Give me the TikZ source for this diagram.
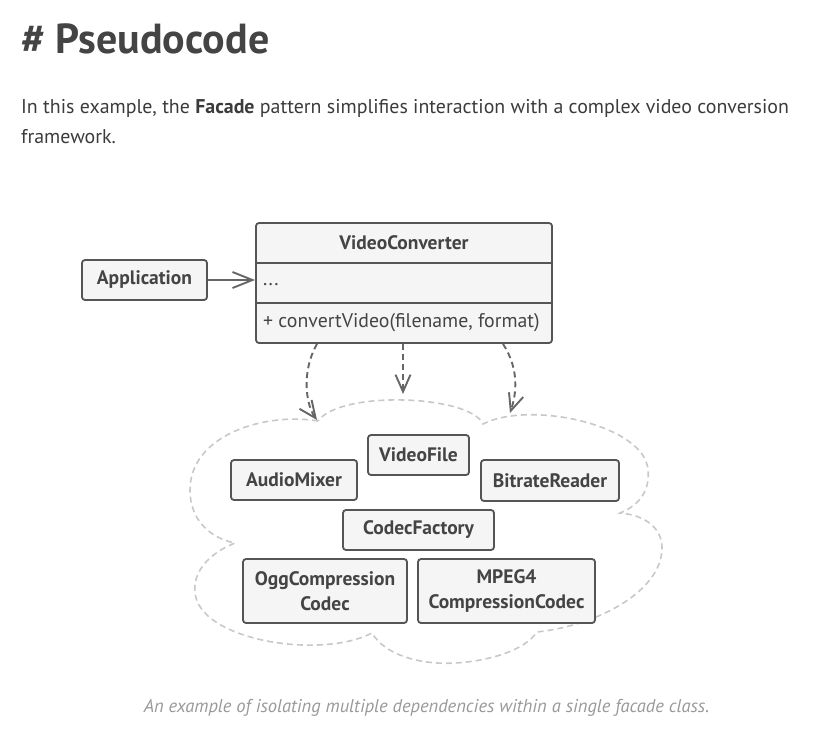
\documentclass[tikz,border=0pt]{standalone}
\usepackage{fontspec}
\setmainfont{PT Sans}
\usetikzlibrary{arrows.meta}
\definecolor{headc}{HTML}{444444}
\definecolor{txtc}{HTML}{3B3B3B}
\definecolor{boxline}{HTML}{555555}
\definecolor{boxfill}{HTML}{F5F5F5}
\definecolor{arrowc}{HTML}{666666}
\definecolor{cloudc}{HTML}{C8C8C8}
\definecolor{capc}{HTML}{999999}
\begin{document}
\begin{tikzpicture}[x=1pt,y=-1pt,
  cls/.style={draw=boxline, fill=boxfill, line width=1.8pt, rounded corners=3pt,
    inner sep=0pt, font=\fontsize{19.5}{25}\selectfont\bfseries, text=headc, align=center},
  member/.style={anchor=west, inner sep=0pt, font=\fontsize{19.8}{22}\selectfont, text=headc},
  assoc/.style={draw=arrowc, line width=1.9pt, -{Straight Barb[length=20pt,width=16pt,line width=1.9pt]}},
  dep/.style={draw=arrowc, line width=1.9pt, dash pattern=on 6pt off 4pt,
    -{Straight Barb[length=17pt,width=15pt,line width=1.9pt]}},
  cloudline/.style={draw=cloudc, line width=1.6pt, dash pattern=on 6pt off 4pt},
  divider/.style={draw=boxline, line width=1.8pt}
]
\useasboundingbox (0,0) rectangle (840,745);

% heading and text
\node[anchor=base west, inner sep=0pt, font=\fontsize{42}{48}\selectfont\bfseries, text=headc] (title) at (21,53) {\# Pseudocode};
\node[anchor=base west, inner sep=0pt, font=\fontsize{19.9}{30}\selectfont, text=txtc] (para1) at (21,113)
  {In this example, the \textbf{Facade} pattern simplifies interaction with a complex video conversion};
\node[anchor=base west, inner sep=0pt, font=\fontsize{19.9}{30}\selectfont, text=txtc] (para2) at (21,143) {framework.};
\node[anchor=base, inner sep=0pt, font=\fontsize{18.5}{22}\selectfont\itshape, text=capc] (caption) at (426.5,712)
  {An example of isolating multiple dependencies within a single facade class.};

% cloud
\draw[cloudline] (318,421)
  .. controls (265,412) and (190,435) .. (190,490)
  .. controls (190,520) and (210,538) .. (235,543)
  .. controls (205,555) and (193,575) .. (195,592)
  .. controls (198,640) and (320,660) .. (372,633)
  .. controls (385,655) and (420,665) .. (455,663)
  .. controls (490,661) and (525,650) .. (537,632)
  .. controls (600,625) and (662,590) .. (662,548)
  .. controls (662,528) and (645,515) .. (620,513)
  .. controls (640,505) and (650,490) .. (648,470)
  .. controls (645,425) and (530,400) .. (483,424)
  .. controls (470,395) and (340,390) .. (318,421);

% classes
\node[cls, minimum width=125pt, minimum height=40pt] (app) at (144.5,280) {Application};
\node[cls, minimum width=296pt, minimum height=120pt] (vc) at (404,283) {};
\coordinate (d1) at (0,263);
\coordinate (d2) at (0,303);
\draw[divider] (vc.west |- d1) -- (vc.east |- d1);
\draw[divider] (vc.west |- d2) -- (vc.east |- d2);
\node[inner sep=0pt, font=\fontsize{19.5}{22}\selectfont\bfseries, text=headc] (vctitle) at (404,243) {VideoConverter};
\node[member] (vcattr) at (263,285) {...};
\node[member] (vcop) at (263,323) {+ convertVideo(filename, format)};

\node[cls, minimum width=101pt, minimum height=40pt] (videofile) at (418.5,455) {VideoFile};
\node[cls, minimum width=126pt, minimum height=40pt] (audiomixer) at (294,480) {AudioMixer};
\node[cls, minimum width=138pt, minimum height=41pt] (bitrate) at (550,480.5) {BitrateReader};
\node[cls, minimum width=151pt, minimum height=40pt] (codecfactory) at (418.5,530) {CodecFactory};
\node[cls, minimum width=164pt, minimum height=64pt] (ogg) at (325,591) {OggCompression\\Codec};
\node[cls, minimum width=177pt, minimum height=64pt] (mpeg) at (506.5,591) {MPEG4\\CompressionCodec};

% connectors
\draw[assoc] (app.east) -- (app.east -| vc.west);
\coordinate (t1) at (317,420);
\coordinate (t2) at (403,394);
\coordinate (t3) at (510,413);
\draw[dep] ([xshift=-87pt]vc.south) .. controls (301,372) and (306,405) .. (t1);
\draw[dep] ([xshift=-1pt]vc.south) -- (t2);
\draw[dep] ([xshift=99pt]vc.south) .. controls (520,370) and (516,395) .. (t3);
\end{tikzpicture}
\end{document}
